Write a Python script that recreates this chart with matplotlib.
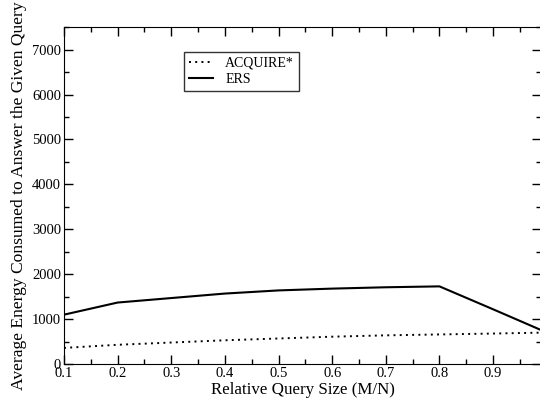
import matplotlib

matplotlib.use("Agg")
import matplotlib.pyplot as plt
from matplotlib.ticker import MultipleLocator

plt.rcParams["font.family"] = ["Liberation Serif", "DejaVu Serif"]

# relative query size M/N
query_size = [0.1, 0.2, 0.3, 0.4, 0.5, 0.6, 0.7, 0.8, 0.9, 0.99]
# average energy spent answering the query
acquire = [360, 430, 480, 530, 570, 610, 640, 660, 680, 700]
ers = [1100, 1370, 1470, 1570, 1640, 1680, 1710, 1730, 1220, 755]

fig = plt.figure(figsize=(5.4, 4.05), dpi=100)
ax = fig.add_axes([0.1185, 0.101, 0.884, 0.832])

ax.plot(query_size, acquire, color="black", lw=1.4, linestyle=(0, (1, 2.2)),
        label="ACQUIRE*")
ax.plot(query_size, ers, color="black", lw=1.5, label="ERS")

ax.set_xlim(0.1, 0.99)
ax.set_ylim(0, 7500)
ax.xaxis.set_minor_locator(MultipleLocator(0.05))
ax.yaxis.set_major_locator(MultipleLocator(1000))
ax.yaxis.set_minor_locator(MultipleLocator(500))
ax.set_xticks([0.1, 0.2, 0.3, 0.4, 0.5, 0.6, 0.7, 0.8, 0.9])
ax.tick_params(which="both", direction="in", top=True, right=True,
               labelsize=10.5, pad=2)
ax.tick_params(which="major", length=6.5, width=1)
ax.tick_params(which="minor", length=3.3, width=1)

ax.set_xlabel("Relative Query Size (M/N)", fontsize=12.2, labelpad=1.5)
ax.set_ylabel("Average Energy Consumed to Answer the Given Query",
              fontsize=12.6, labelpad=4)

leg = ax.legend(loc="upper left", bbox_to_anchor=(0.252, 0.926), fontsize=10,
                frameon=True, fancybox=False, edgecolor="black",
                handlelength=1.7, borderpad=0.35, labelspacing=0.2,
                handletextpad=0.9, borderaxespad=0)
leg.get_frame().set_linewidth(1)

fig.savefig("out.png", dpi=100)
